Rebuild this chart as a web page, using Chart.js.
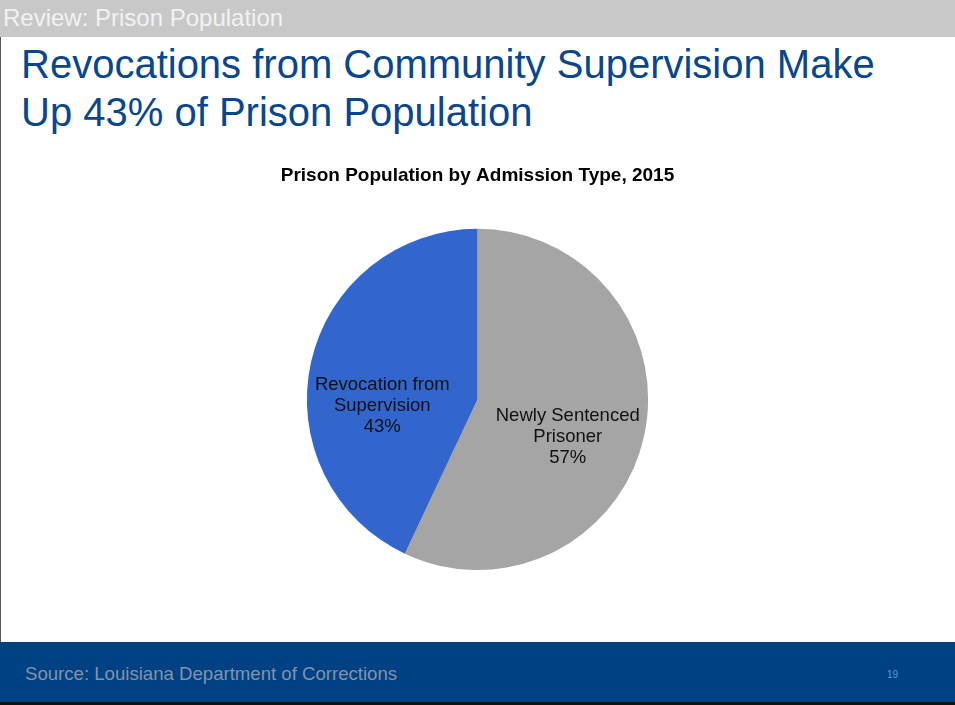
<!DOCTYPE html>
<html>
<head>
<meta charset="utf-8">
<script src="https://cdn.jsdelivr.net/npm/chart.js@4/dist/chart.umd.min.js"></script>
<style>
  html, body { margin: 0; padding: 0; }
  body { width: 955px; height: 705px; position: relative; overflow: hidden; background: #fff; font-family: "Liberation Sans", Arial, sans-serif; }
  #topbar { position: absolute; left: 0; top: 0; width: 955px; height: 37px; background: #c8c8c8; }
  #topbar span { position: absolute; left: 3px; top: 4px; font-size: 24px; color: #f2f2f2; line-height: 28px; }
  #leftline { position: absolute; left: 0; top: 37px; width: 1px; height: 605px; background: #555; }
  #heading { position: absolute; left: 21px; top: 40px; font-size: 40px; line-height: 48px; color: #0a468c; margin: 0; font-weight: normal; }
  #chartBox { position: absolute; left: 0; top: 160px; width: 955px; height: 410px; }
  #footer { position: absolute; left: 0; top: 642px; width: 955px; height: 60px; background: #004184; }
  #footer .src { position: absolute; left: 25px; top: 21px; font-size: 18.6px; color: #8592aa; }
  #footer .num { position: absolute; left: 887px; top: 27px; font-size: 10px; color: #4f9de0; }
  #bottomline { position: absolute; left: 0; top: 702px; width: 955px; height: 3px; background: #111; }
</style>
</head>
<body>
<div id="topbar"><span>Review: Prison Population</span></div>
<div id="leftline"></div>
<h1 id="heading">Revocations from Community Supervision Make<br>Up 43% of Prison Population</h1>
<div id="chartBox"><canvas id="admissionChart" width="955" height="410"></canvas></div>
<div id="footer"><span class="src">Source: Louisiana Department of Corrections</span><span class="num">19</span></div>
<div id="bottomline"></div>

<script>
const admissionTypes = [['Newly Sentenced', 'Prisoner'], ['Revocation from', 'Supervision']];
const admissionShares = [57, 43];
const sliceColors = ['#a5a5a5', '#3366cc'];
// nudges for the in-slice labels, relative to each slice's centroid
const labelOffsets = [[7, 19], [-12, 25]];

// writes category and percent inside each slice
const sliceLabels = {
    id: 'sliceLabels',
    afterDatasetsDraw(chart) {
        const ctx = chart.ctx;
        const meta = chart.getDatasetMeta(0);
        ctx.save();
        ctx.font = '18.5px "Liberation Sans", Arial, sans-serif';
        ctx.fillStyle = '#111';
        ctx.textAlign = 'center';
        ctx.textBaseline = 'middle';
        meta.data.forEach(function(arc, i) {
            const pos = arc.tooltipPosition();
            const lines = admissionTypes[i].concat([admissionShares[i] + '%']);
            const x = pos.x + labelOffsets[i][0];
            const y = pos.y + labelOffsets[i][1];
            lines.forEach(function(line, j) {
                ctx.fillText(line, x, y + (j - 1) * 21.3);
            });
        });
        ctx.restore();
    }
};

const admissionCtx = document.getElementById('admissionChart').getContext('2d');
const admissionChart = new Chart(admissionCtx, {
    type: 'pie',
    data: {
        labels: admissionTypes.map(function(t) { return t.join(' '); }),
        datasets: [{
            data: admissionShares,
            backgroundColor: sliceColors,
            borderWidth: 0
        }]
    },
    options: {
        responsive: false,
        animation: false,
        devicePixelRatio: 1,
        layout: { padding: 0 },
        plugins: {
            legend: { display: false },
            tooltip: { enabled: false },
            title: {
                display: true,
                text: 'Prison Population by Admission Type, 2015',
                color: '#000',
                font: { family: '"Liberation Sans", Arial, sans-serif', size: 19, weight: 'bold', lineHeight: 1.2 },
                padding: { top: 4, bottom: 42 }
            }
        }
    },
    plugins: [sliceLabels]
});
</script>
</body>
</html>
